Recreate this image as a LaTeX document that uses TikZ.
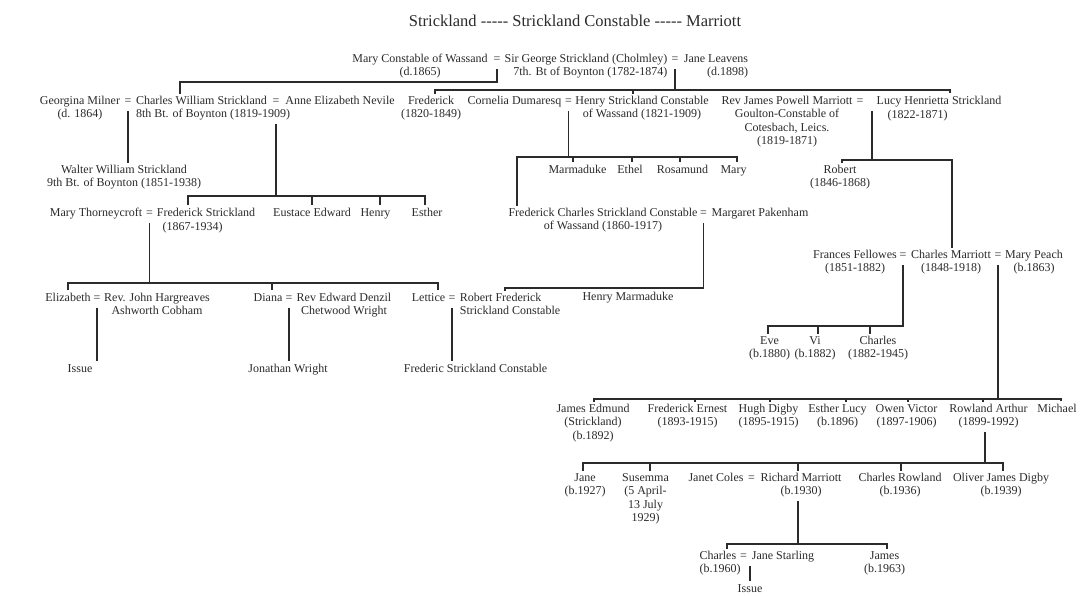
\documentclass[tikz,border=0pt]{standalone}
\usepackage{fontspec}
\setmainfont{Liberation Serif}
\definecolor{ink}{HTML}{2B2B2B}
\begin{document}
\begin{tikzpicture}[x=1pt,y=-1pt,
  every node/.style={font=\fontsize{12}{13.5}\selectfont, text=ink, inner sep=2pt,
    execute at begin node=\strut, execute at end node=\strut},
  person/.style={align=center},
  eqsign/.style={inner xsep=1pt},
  titletext/.style={font=\fontsize{16.5}{19}\selectfont},
  link/.style={draw=ink, line width=1.2pt}]
\useasboundingbox[fill=white] (0,0) rectangle (1084,596);

% title
\node[titletext] (title) at (575,23) {Strickland -{}-{}-{}-{}- Strickland Constable -{}-{}-{}-{}- Marriott};

% row 1
\node[person] (mary) at (420,67) {Mary Constable of Wassand\\(d.1865)};
\node[eqsign] (eqMG) at (497,60) {=};
\node[align=right] (george) at (586,67) {Sir George Strickland (Cholmley)\\7th. Bt of Boynton (1782-1874)};
\node[eqsign] (eqGJ) at (675,60) {=};
\node[align=right] (jane) at (716,67) {Jane Leavens\\(d.1898)};

% row 2
\node[person] (georgina) at (80,109) {Georgina Milner\\(d. 1864)};
\node[eqsign] (eqGC) at (128,102) {=};
\node[align=left] (cws) at (213,109) {Charles William Strickland\\8th Bt. of Boynton (1819-1909)};
\node[eqsign] (eqCA) at (276,102) {=};
\node (anne) at (340,102) {Anne Elizabeth Nevile};
\node[person] (fred1) at (431,109) {Frederick\\(1820-1849)};
\node (cornelia) at (514.5,102) {Cornelia Dumaresq};
\node[eqsign] (eqCH) at (568.5,102) {=};
\node[person] (henry1) at (642,109) {Henry Strickland Constable\\of Wassand (1821-1909)};
\node[person] (revjames) at (787,122.5) {Rev James Powell Marriott\\Goulton-Constable of\\Cotesbach, Leics.\\(1819-1871)};
\node[eqsign] (eqJL) at (860,102) {=};
\node (lucy) at (939,102) {Lucy Henrietta Strickland};
\node (lucyd) at (917.5,115.5) {(1822-1871)};

% row 3
\node[person] (walter) at (124,178) {Walter William Strickland\\9th Bt. of Boynton (1851-1938)};
\node (marmaduke) at (577.5,171) {Marmaduke};
\node (ethel) at (630,171) {Ethel};
\node (rosamund) at (682.5,171) {Rosamund};
\node (mary2) at (733.5,171) {Mary};
\node[person] (robert) at (840,178) {Robert\\(1846-1868)};

% row 4
\node (maryT) at (96,214) {Mary Thorneycroft};
\node[eqsign] (eqMF) at (149.5,214) {=};
\node (fredS) at (206,214) {Frederick Strickland};
\node (fredSd) at (192.5,228) {(1867-1934)};
\node (eustace) at (312,214) {Eustace Edward};
\node (henry2) at (375.5,214) {Henry};
\node (esther) at (427,214) {Esther};
\node[person] (fcharles) at (603,221) {Frederick Charles Strickland Constable\\of Wassand (1860-1917)};
\node[eqsign] (eqFM) at (703.5,214) {=};
\node (margaret) at (760,214) {Margaret Pakenham};

% Frances row
\node[person] (frances) at (855,263) {Frances Fellowes\\(1851-1882)};
\node[eqsign] (eqFC) at (903,256) {=};
\node[person] (charlesM) at (951,263) {Charles Marriott\\(1848-1918)};
\node[eqsign] (eqCP) at (998,256) {=};
\node[person] (marypeach) at (1034,263) {Mary Peach\\(b.1863)};

% Elizabeth row
\node (elizabeth) at (68,299) {Elizabeth};
\node[eqsign] (eqER) at (97,299) {=};
\node[person] (revjohn) at (157,306) {Rev. John Hargreaves\\Ashworth Cobham};
\node (diana) at (268,299) {Diana};
\node[eqsign] (eqDR) at (289,299) {=};
\node[person] (revedward) at (344,306) {Rev Edward Denzil\\Chetwood Wright};
\node (lettice) at (428.5,299) {Lettice};
\node[eqsign] (eqLR) at (452,299) {=};
\node[align=left] (robertF) at (510,306) {Robert Frederick\\Strickland Constable};
\node (henryM) at (628,298) {Henry Marmaduke};

% Issue row
\node (issue1) at (80,370) {Issue};
\node (jonathan) at (288,370) {Jonathan Wright};
\node (fredericSC) at (475.5,370) {Frederic Strickland Constable};

% Eve row
\node[person] (eve) at (769.5,349) {Eve\\(b.1880)};
\node[person] (vi) at (815,349) {Vi\\(b.1882)};
\node[person] (charles3) at (878,349) {Charles\\(1882-1945)};

% James row
\node[person] (jamesE) at (593,423.8) {James Edmund\\(Strickland)\\(b.1892)};
\node[person] (fredE) at (687.5,417) {Frederick Ernest\\(1893-1915)};
\node[person] (hugh) at (768.5,417) {Hugh Digby\\(1895-1915)};
\node[person] (estherL) at (837.5,417) {Esther Lucy\\(b.1896)};
\node[person] (owen) at (906.5,417) {Owen Victor\\(1897-1906)};
\node[person] (rowland) at (988.5,417) {Rowland Arthur\\(1899-1992)};
\node (michael) at (1057,410) {Michael};

% Jane row
\node[person] (jane2) at (585,486) {Jane\\(b.1927)};
\node[person] (susemma) at (645.5,499.5) {Susemma\\(5 April-\\13 July\\1929)};
\node (janet) at (716,479) {Janet Coles};
\node[eqsign] (eqJR) at (751.5,479) {=};
\node[person] (richard) at (801,486) {Richard Marriott\\(b.1930)};
\node[person] (charlesR) at (900,486) {Charles Rowland\\(b.1936)};
\node[person] (oliver) at (1001,486) {Oliver James Digby\\(b.1939)};

% Charles row
\node[align=left] (charles4) at (720,564) {Charles\\(b.1960)};
\node[eqsign] (eqCJ) at (743.5,557) {=};
\node (janeS) at (783,557) {Jane Starling};
\node[person] (jamesR) at (884.5,564) {James\\(b.1963)};
\node (issue2) at (750,590) {Issue};

% ---------- connectors ----------
% Mary = George
\coordinate (kCW) at (180,82);
\draw[link] (eqMG.south) |- (kCW) -- (kCW |- cws.north);

% George = Jane
\coordinate (kF1) at (435,90);
\coordinate (kH1) at (633,90);
\coordinate (kLu) at (950,90);
\draw[link] (eqGJ.south) -- (eqGJ.south |- kF1);
\draw[link] (kF1 |- fred1.north) -- (kF1) -- (kLu) -- (kLu |- lucy.north);
\draw[link] (kH1) -- (kH1 |- henry1.north);

% Georgina = Charles William
\draw[link] (eqGC.south) -- (eqGC.south |- walter.north);

% Charles William = Anne
\coordinate (kFS) at (188,196);
\coordinate (kEu) at (312,196);
\coordinate (kHe) at (380,196);
\coordinate (kEs) at (425,196);
\draw[link] (eqCA.south |- cws.south) -- (eqCA.south |- kFS);
\draw[link] (kFS |- fredS.north) -- (kFS) -- (kEs) -- (kEs |- esther.north);
\draw[link] (kEu) -- (kEu |- eustace.north);
\draw[link] (kHe) -- (kHe |- henry2.north);

% Cornelia = Henry
\coordinate (kFC) at (517,157);
\coordinate (kMa) at (573,157);
\coordinate (kEt) at (632,157);
\coordinate (kRo) at (680,157);
\coordinate (kMy) at (737,157);
\draw[link] (eqCH.south) -- (eqCH.south |- kFC);
\draw[link] (kFC |- fcharles.north) -- (kFC) -- (kMy) -- (kMy |- mary2.north);
\draw[link] (kMa) -- (kMa |- marmaduke.north);
\draw[link] (kEt) -- (kEt |- ethel.north);
\draw[link] (kRo) -- (kRo |- rosamund.north);

% Rev James = Lucy
\coordinate (kJL) at (872,160);
\coordinate (kRb) at (842,160);
\coordinate (kCM) at (952,160);
\draw[link] (kJL |- eqJL.south) -- (kJL);
\draw[link] (kRb |- robert.north) -- (kRb) -- (kCM) -- (kCM |- charlesM.north);

% Mary Thorneycroft = Frederick
\coordinate (kEl) at (68,283);
\coordinate (kDi) at (272,283);
\coordinate (kLe) at (438,283);
\draw[link] (eqMF.south) -- (eqMF.south |- kEl);
\draw[link] (kEl |- elizabeth.north) -- (kEl) -- (kLe) -- (kLe |- lettice.north);
\draw[link] (kDi) -- (kDi |- diana.north);

% Frederick Charles = Margaret
\coordinate (kRF) at (505,288);
\coordinate (kHM) at (628,288);
\draw[link] (eqFM.south) |- (kRF) -- (kRF |- robertF.north);
\draw[link] (kHM) -- (kHM |- henryM.north);

% single descents
\draw[link] (eqER.south) -- (eqER.south |- issue1.north);
\draw[link] (eqDR.south) -- (eqDR.south |- jonathan.north);
\draw[link] (eqLR.south) -- (eqLR.south |- fredericSC.north);

% Frances = Charles Marriott
\coordinate (kEv) at (768,326);
\coordinate (kVi) at (818,326);
\coordinate (kCh) at (870,326);
\draw[link] (eqFC.south) |- (kEv) -- (kEv |- eve.north);
\draw[link] (kVi) -- (kVi |- vi.north);
\draw[link] (kCh) -- (kCh |- charles3.north);

% Charles Marriott = Mary Peach
\coordinate (kJE) at (594,399);
\coordinate (kFE) at (695,399);
\coordinate (kHu) at (770,399);
\coordinate (kEL) at (846,399);
\coordinate (kOw) at (908,399);
\coordinate (kRA) at (983,399);
\coordinate (kMi) at (1061,399);
\draw[link] (eqCP.south) -- (eqCP.south |- kJE);
\draw[link] (kJE |- jamesE.north) -- (kJE) -- (kMi) -- (kMi |- michael.north);
\draw[link] (kFE) -- (kFE |- fredE.north);
\draw[link] (kHu) -- (kHu |- hugh.north);
\draw[link] (kEL) -- (kEL |- estherL.north);
\draw[link] (kOw) -- (kOw |- owen.north);
\draw[link] (kRA) -- (kRA |- rowland.north);

% Rowland Arthur
\coordinate (kRw) at (985,463);
\coordinate (kJa) at (583,463);
\coordinate (kSu) at (650,463);
\coordinate (kRi) at (798,463);
\coordinate (kCR) at (901,463);
\coordinate (kOl) at (1003,463);
\draw[link] (kRw |- rowland.south) -- (kRw);
\draw[link] (kJa |- jane2.north) -- (kJa) -- (kOl) -- (kOl |- oliver.north);
\draw[link] (kSu) -- (kSu |- susemma.north);
\draw[link] (kRi) -- (kRi |- richard.north);
\draw[link] (kCR) -- (kCR |- charlesR.north);

% Janet = Richard
\coordinate (kRc) at (798,544);
\coordinate (kC4) at (727,544);
\coordinate (kJR) at (887,544);
\draw[link] (kRc |- richard.south) -- (kRc);
\draw[link] (kC4 |- charles4.north) -- (kC4) -- (kJR) -- (kJR |- jamesR.north);

% Charles = Jane Starling
\draw[link] (issue2.north |- eqCJ.south) -- (issue2.north);
\end{tikzpicture}
\end{document}
